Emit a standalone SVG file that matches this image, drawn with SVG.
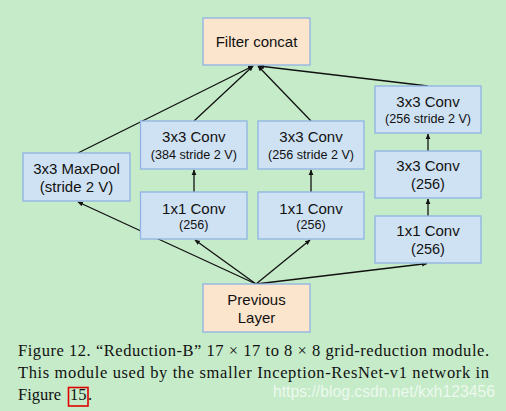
<svg xmlns="http://www.w3.org/2000/svg" width="506" height="411" viewBox="0 0 506 411">
<style>
.bg{fill:#c6ebc9}
.b{fill:#cfe2f3;stroke:#8fb3e3;stroke-width:1.3}
.o{fill:#fce5cd;stroke:#8fb3e3;stroke-width:1.3}
.t{font-family:"Liberation Sans",Arial,sans-serif;font-size:15px;fill:#111;text-anchor:middle}
.s{font-family:"Liberation Sans",Arial,sans-serif;font-size:12.6px;fill:#111;text-anchor:middle}
.m{font-family:"Liberation Sans",Arial,sans-serif;font-size:14.5px;fill:#111;text-anchor:middle}
.c{font-family:"Liberation Serif","Times New Roman",serif;font-size:16.5px;fill:#111}
.e{stroke:#111;stroke-width:1.3;fill:none;marker-end:url(#ah)}
</style>
<defs>
<marker id="ah" markerWidth="6" markerHeight="6" refX="5" refY="3" orient="auto" markerUnits="userSpaceOnUse">
<path d="M0,0.6 L5.5,3 L0,5.4 Z" fill="#111"/>
</marker>
</defs>
<rect class="bg" x="0" y="0" width="506" height="411"/>
<g id="connectors">
<line class="e" x1="256" y1="284" x2="78" y2="202"/>
<line class="e" x1="256" y1="284" x2="195" y2="240"/>
<line class="e" x1="256" y1="284" x2="310" y2="240"/>
<line class="e" x1="256" y1="284" x2="427" y2="263.5"/>
<line class="e" x1="194" y1="192" x2="194" y2="170"/>
<line class="e" x1="311" y1="192" x2="311" y2="170"/>
<line class="e" x1="428" y1="216" x2="428" y2="199"/>
<line class="e" x1="428" y1="151" x2="428" y2="134"/>
<line class="e" x1="78" y1="153" x2="253" y2="66"/>
<line class="e" x1="194" y1="121" x2="253" y2="66"/>
<line class="e" x1="311" y1="121" x2="258" y2="66"/>
<line class="e" x1="428" y1="86" x2="259" y2="66"/>
</g>
<g id="filter_concat">
<rect class="o" x="203" y="18" width="107" height="47"/>
<text class="t" x="256.5" y="47">Filter concat</text>
</g>
<g id="maxpool">
<rect class="b" x="23" y="153" width="107" height="48"/>
<text class="t" x="76.5" y="174">3x3 MaxPool</text>
<text class="t" x="76.5" y="192">(stride 2 V)</text>
</g>
<g id="conv3x3_384">
<rect class="b" x="140.5" y="121" width="106.5" height="48"/>
<text class="t" x="193.8" y="142">3x3 Conv</text>
<text class="s" x="193.8" y="159">(384 stride 2 V)</text>
</g>
<g id="conv3x3_256s">
<rect class="b" x="258" y="121" width="106" height="48"/>
<text class="t" x="311" y="142">3x3 Conv</text>
<text class="s" x="311" y="159">(256 stride 2 V)</text>
</g>
<g id="conv1x1_a">
<rect class="b" x="140.5" y="192" width="106.5" height="47"/>
<text class="t" x="193.8" y="214">1x1 Conv</text>
<text class="s" x="193.8" y="229">(256)</text>
</g>
<g id="conv1x1_b">
<rect class="b" x="258" y="192" width="106" height="47"/>
<text class="t" x="311" y="214">1x1 Conv</text>
<text class="s" x="311" y="229">(256)</text>
</g>
<g id="conv3x3_top_right">
<rect class="b" x="375" y="86" width="106" height="47"/>
<text class="t" x="428" y="107">3x3 Conv</text>
<text class="s" x="428" y="123">(256 stride 2 V)</text>
</g>
<g id="conv3x3_right">
<rect class="b" x="375" y="151" width="106" height="47"/>
<text class="t" x="428" y="171">3x3 Conv</text>
<text class="m" x="428" y="189">(256)</text>
</g>
<g id="conv1x1_right">
<rect class="b" x="375" y="216" width="106" height="47"/>
<text class="t" x="428" y="236">1x1 Conv</text>
<text class="m" x="428" y="254">(256)</text>
</g>
<g id="previous_layer">
<rect class="o" x="203" y="284" width="107" height="48"/>
<text class="t" x="256.5" y="305">Previous</text>
<text class="t" x="256.5" y="323">Layer</text>
</g>
<g id="caption">
<text class="c" x="18" y="356" textLength="471" lengthAdjust="spacing">Figure 12. “Reduction-B” 17 × 17 to 8 × 8 grid-reduction module.</text>
<text class="c" x="18" y="378" textLength="471" lengthAdjust="spacing">This module used by the smaller Inception-ResNet-v1 network in</text>
<text class="c" x="18" y="400">Figure <tspan x="70">15</tspan><tspan x="88">.</tspan></text>
<rect x="68.5" y="387.5" width="19.5" height="18.5" fill="none" stroke="#e00000" stroke-width="1.6"/>
<text x="273" y="397" font-family="Liberation Sans,Arial,sans-serif" font-size="16" fill="#ffffff" fill-opacity="0.7" textLength="222" lengthAdjust="spacingAndGlyphs">https://blog.csdn.net/kxh123456</text>
</g>
</svg>
